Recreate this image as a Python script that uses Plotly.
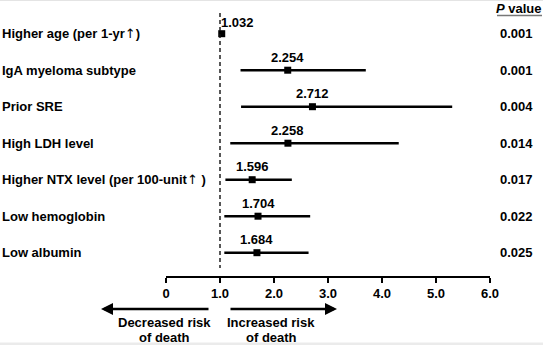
import plotly.graph_objects as go

# Multivariable predictors of death: hazard ratios with 95% CI
UP = '<span style="font-family:DejaVu Sans;font-weight:normal">\u2191</span>'
factors = [
    f"Higher age (per 1-yr{UP})",
    "IgA myeloma subtype",
    "Prior SRE",
    "High LDH level",
    f"Higher NTX level (per 100-unit{UP} )",
    "Low hemoglobin",
    "Low albumin",
]
hazard_ratio = [1.032, 2.254, 2.712, 2.258, 1.596, 1.704, 1.684]
ci_lower = [1.015, 1.38, 1.39, 1.19, 1.10, 1.08, 1.08]
ci_upper = [1.050, 3.70, 5.30, 4.31, 2.33, 2.67, 2.64]
p_values = ["0.001", "0.001", "0.004", "0.014", "0.017", "0.022", "0.025"]
tick_values = [0, 1, 2, 3, 4, 5, 6]
tick_labels = ["0", "1.0", "2.0", "3.0", "4.0", "5.0", "6.0"]

# Page / plot geometry (pixels)
W, H = 543, 345
L, R_EDGE, T, B_EDGE = 166, 490, 0, 276
PW, PH = R_EDGE - L, B_EDGE - T

FONT = "Liberation Sans, Arial, Helvetica, sans-serif"


def px_x(px):
    return (px - L) / PW


def px_y(py):
    return (B_EDGE - py) / PH


rows = list(range(len(factors)))

fig = go.Figure()
fig.add_trace(go.Scatter(
    x=hazard_ratio,
    y=rows,
    mode="markers",
    marker=dict(symbol="square", size=7, color="black"),
    error_x=dict(
        type="data",
        symmetric=False,
        array=[u - h for u, h in zip(ci_upper, hazard_ratio)],
        arrayminus=[h - lo for h, lo in zip(hazard_ratio, ci_lower)],
        color="black",
        thickness=2.6,
        width=0,
    ),
    hoverinfo="skip",
    showlegend=False,
    cliponaxis=False,
))

annotations = []
# factor labels at the left edge
for r, name in zip(rows, factors):
    annotations.append(dict(
        xref="paper", yref="y", x=px_x(0), y=r, text=f"<b>{name}</b>",
        xanchor="left", yanchor="middle", showarrow=False,
        font=dict(family=FONT, size=13, color="black"),
    ))
# hazard ratio values above each marker
for r, hr in zip(rows, hazard_ratio):
    near_ref = hr < 1.1
    annotations.append(dict(
        xref="x", yref="y", x=hr, y=r, text=f"<b>{hr:.3f}</b>",
        xanchor="left" if near_ref else "center", yanchor="middle",
        xshift=-3 if near_ref else 0, yshift=11 if near_ref else 13,
        showarrow=False, font=dict(family=FONT, size=13, color="black"),
    ))
# P values column
for r, p in zip(rows, p_values):
    annotations.append(dict(
        xref="paper", yref="y", x=px_x(516.5), y=r, text=f"<b>{p}</b>",
        xanchor="center", yanchor="middle", showarrow=False,
        font=dict(family=FONT, size=13, color="black"),
    ))
annotations.append(dict(
    xref="paper", yref="paper", x=px_x(519), y=px_y(8), text="<b><i>P</i> value</b>",
    xanchor="center", yanchor="middle", showarrow=False,
    font=dict(family=FONT, size=13, color="black"),
))
# direction arrows and captions
annotations.append(dict(
    xref="paper", yref="paper", x=px_x(101), y=px_y(309), ax=109, ay=0,
    text="", showarrow=True, arrowhead=2, arrowsize=1, arrowwidth=2.4,
    arrowcolor="black",
))
annotations.append(dict(
    xref="paper", yref="paper", x=px_x(337), y=px_y(309), ax=-108, ay=0,
    text="", showarrow=True, arrowhead=2, arrowsize=1, arrowwidth=2.4,
    arrowcolor="black",
))
for cx, words in [(164, "Decreased risk"), (271, "Increased risk")]:
    annotations.append(dict(
        xref="paper", yref="paper", x=px_x(cx), y=px_y(322), text=f"<b>{words}</b>",
        xanchor="center", yanchor="middle", showarrow=False,
        font=dict(family=FONT, size=13, color="black"),
    ))
    annotations.append(dict(
        xref="paper", yref="paper", x=px_x(cx), y=px_y(337.5), text="<b>of death</b>",
        xanchor="center", yanchor="middle", showarrow=False,
        font=dict(family=FONT, size=13, color="black"),
    ))

row_px0, row_step = 33.7, 36.5
y_top = -row_px0 / row_step
y_bottom = (PH - row_px0) / row_step

shapes = [
    # reference line at HR = 1
    dict(type="line", xref="x", yref="paper", x0=1, x1=1,
         y0=px_y(13), y1=px_y(268),
         line=dict(color="#111", width=1.4, dash="4px,3px")),
    # underline of the P value header
    dict(type="line", xref="paper", yref="paper", x0=px_x(497), x1=px_x(542),
         y0=px_y(15.5), y1=px_y(15.5), line=dict(color="#777", width=1.5)),
    # frame edges
    dict(type="line", xref="paper", yref="paper", x0=px_x(0), x1=px_x(W),
         y0=px_y(0.5), y1=px_y(0.5), line=dict(color="#e4e4e4", width=1)),
    dict(type="rect", xref="paper", yref="paper", x0=px_x(0), x1=px_x(W),
         y0=px_y(342.5), y1=px_y(W), fillcolor="#ebebeb", line=dict(width=0),
         layer="below"),
]

fig.update_layout(
    width=W, height=H,
    margin=dict(l=L, r=W - R_EDGE, t=T, b=H - B_EDGE, autoexpand=False),
    paper_bgcolor="white", plot_bgcolor="white",
    font=dict(family=FONT, size=13, color="black"),
    xaxis=dict(
        range=[0, 6], tickvals=tick_values, ticktext=[f"<b>{t}</b>" for t in tick_labels],
        showline=True, linecolor="black", linewidth=1.5,
        ticks="outside", ticklen=5, tickwidth=1.5, tickcolor="black",
        showgrid=False, zeroline=False, fixedrange=True,
        tickfont=dict(family=FONT, size=13, color="black"),
    ),
    yaxis=dict(range=[y_bottom, y_top], visible=False, showgrid=False,
               zeroline=False, fixedrange=True),
    annotations=annotations,
    shapes=shapes,
)

fig.write_html("out.html", config={"displayModeBar": False})
